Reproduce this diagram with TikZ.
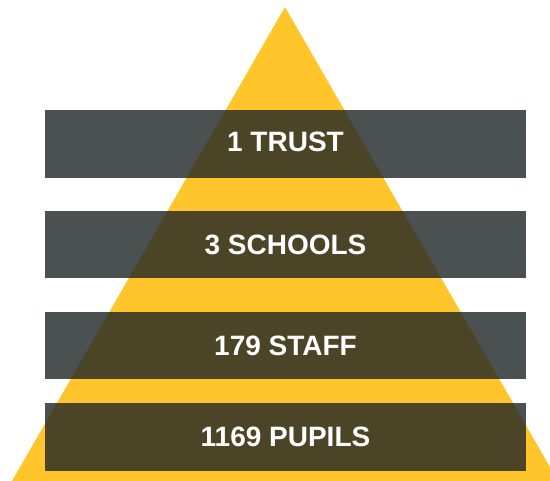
\documentclass[tikz,border=0pt]{standalone}
\usepackage{fontspec}
\setmainfont{Liberation Sans}
\definecolor{pyr}{RGB}{255,197,43}
\definecolor{bar}{RGB}{30,36,38}
\begin{document}
\begin{tikzpicture}[x=1pt,y=-1pt,
  barbox/.style={fill=bar,fill opacity=0.8,draw=none},
  lbl/.style={anchor=base,text=white,font=\bfseries\fontsize{28}{30}\selectfont,inner sep=0pt}]
\useasboundingbox (0,0) rectangle (550,481);
\clip (0,0) rectangle (550,481);
\fill[pyr] (285,7) -- (12,481) -- (558,481) -- cycle;
\fill[barbox] (45,110) rectangle (526,178);
\fill[barbox] (45,211) rectangle (526,278.5);
\fill[barbox] (45,312) rectangle (526,379.5);
\fill[barbox] (45,403) rectangle (526,471);
\node[lbl] (t1) at (285.5,151.7) {1 TRUST};
\node[lbl] (t2) at (285.5,255) {3 SCHOOLS};
\node[lbl] (t3) at (285.5,356) {179 STAFF};
\node[lbl] (t4) at (285.5,446.7) {1169 PUPILS};
\end{tikzpicture}
\end{document}
